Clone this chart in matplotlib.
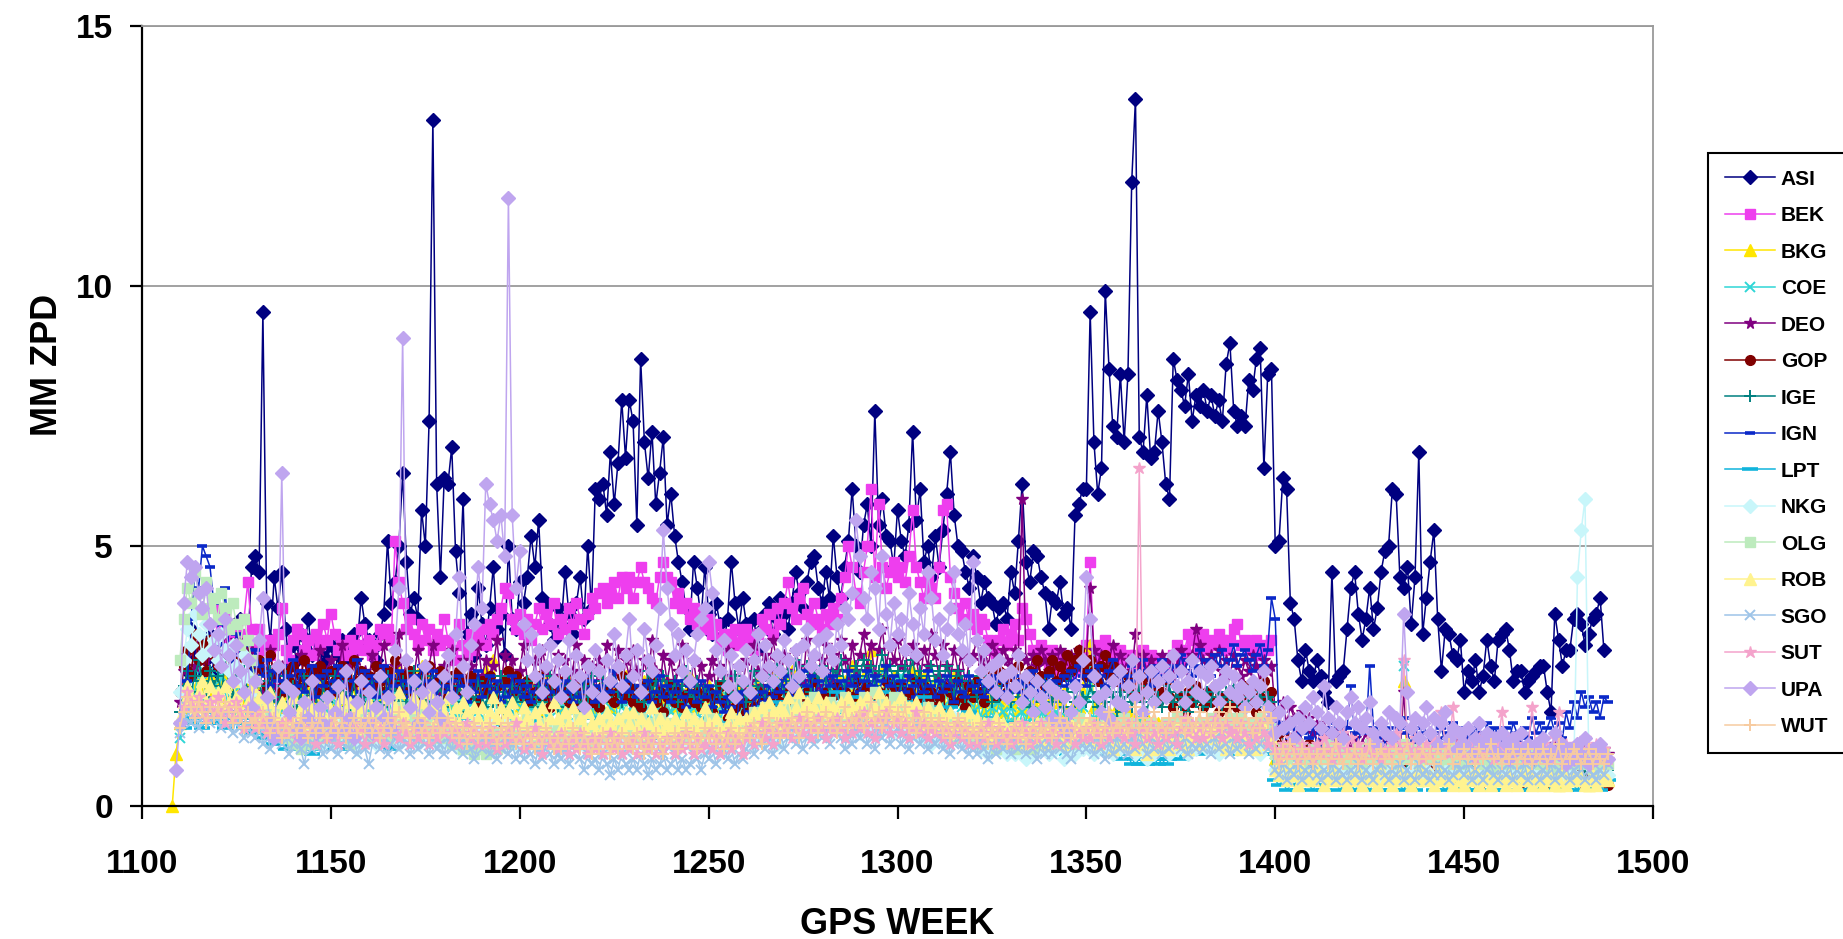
import numpy as np
import matplotlib
matplotlib.use("Agg")
from matplotlib import pyplot as plt


def tenths(text):
    # values are typed in tenths of a millimetre, one line per 10 weeks
    return np.array(text.split(), dtype=float) / 10


ASI_START = 1111
ASI = tenths("""
22 26 34 29 25 31 28 33 26 30
27 32 29 34 31 36 32 30 46 48
45 95 39 32 44 38 45 34 27 31
28 33 30 36 29 32 27 30 28 31
26 29 32 28 30 33 31 40 35 32
30 28 33 37 51 39 43 50 64 47
37 40 36 57 50 74 132 62 44 63
62 69 49 41 59 33 37 29 42 35
31 38 46 34 37 29 50 36 34 43
39 44 52 46 55 40 39 35 32 38
35 45 37 33 39 44 36 50 38 61
59 62 56 68 58 66 78 67 78 74
54 86 70 63 72 58 64 71 54 60
52 47 43 38 34 47 42 36 46 37
33 39 35 31 36 47 39 34 40 35
32 36 30 34 37 39 33 36 40 37
34 39 45 41 38 43 47 48 42 39
45 40 52 44 40 46 51 61 50 45
54 58 50 76 54 59 52 51 46 57
51 48 54 72 55 61 47 50 44 52
46 53 60 68 56 50 49 45 42 48
44 39 43 40 39 35 38 39 36 45
41 51 62 47 43 49 48 44 41 34
40 39 43 37 38 34 56 58 61 61
95 70 60 65 99 84 73 71 83 70
83 120 136 71 68 79 67 68 76 70
62 59 86 82 80 77 83 74 79 77
80 76 79 75 78 74 85 89 76 73
75 73 82 80 86 88 65 83 84 50
51 63 61 39 36 28 24 30 26 24
28 25 22 20 45 24 25 26 34 42
45 37 32 36 42 34 38 45 49 50
61 60 44 42 46 35 44 68 33 40
47 53 36 26 34 33 29 28 32 22
26 24 28 22 25 32 27 24 32 33
34 30 24 26 26 22 24 25 26 27
27 22 18 37 32 27 30 30 36 37
35 31 33 36 37 40 30
""")

BEK_START = 1120
BEK = tenths("""
38 34 36 32 35 30 33 36 43 34
31 34 30 32 29 31 33 38 30 28
32 34 33 30 32 29 33 31 35 32
37 33 30 31 29 32 30 31 34 30
32 29 31 34 33 34 32 51 43 39
34 36 33 31 35 32 34 30 33 31
36 32 30 28 35 31 29 33 30 32
34 31 35 33 36 38 42 41 36 34
37 33 36 32 35 38 34 37 35 39
33 36 34 38 35 39 36 33 37 40
38 41 42 39 41 43 40 44 42 44
40 43 46 43 42 40 39 44 47 44
43 39 41 38 39 36 38 35 37 34
36 33 35 31 33 30 32 34 31 33
34 32 30 33 36 34 37 33 38 35
39 43 38 36 40 42 37 35 39 36
34 37 35 38 36 40 44 50 46 41
39 45 50 61 44 58 46 42 45 47
44 46 43 48 57 46 43 40 44 42
40 46 57 58 44 41 38 36 39 35
37 34 36 35 32 30 29 32 34 31
33 35 32 38 36 33 30 28 31 29
27 30 28 26 29 27 25 28 26 29
31 47 29 31 28 32 30 29 27 30
28 29 27 29 28 30 27 29 26 28
27 25 27 29 31 28 30 33 32 29
31 33 30 32 31 33 32 30 32 34
35 31 32 30 31 32 29 31 30 32
""")

BKG_START = 1108
BKG = tenths("""
0 10
16 23 21 19 22 24 20 23 25 22
24 21 25 23 26 22 20 24 21 19
23 20 22 18 24 21 19 23 20 22
18 21 24 19 22 20 17 23 21 19
22 18 20 24 19 21 23 18 20 22
19 23 21 25 20 22 24 19 26 21
23 20 25 22 27 21 24 19 22 26
21 23 20 25 22 19 24 21 23 20
22 26 23 28 21 24 20 23 22 25
19 22 24 20 23 18 21 25 22 20
23 19 21 24 20 22 18 21 23 19
22 20 24 21 19 23 20 22 25 21
19 22 20 24 21 23 19 22 20 24
21 19 23 20 22 25 21 19 22 20
23 21 18 22 20 24 19 21 23 20
22 19 21 24 22 20 23 25 24 23
25 24 26 23 25 24 22 26 23 21
24 22 20 23 25 21 24 22 27 23
21 25 22 30 24 22 26 23 21 25
23 20 24 22 26 21 23 25 22 20
24 21 23 19 22 25 21 23 20 22
19 22 20 18 21 19 23 20 18 21
20 17 21 19 22 18 20 17 21 19
18 21 17 20 22 18 16 20 19 22
24 31 19 17 21 16 18 15 19 17
15 18 14 17 16 13 17 15 14 16
13 16 14 12 15 13 16 14 12 15
14 12 15 13 16 14 12 15 13 16
14 17 15 13 16 14 12 15 13 14
9 8 10 7 12 9 8 10 7 9
8 10 7 9 11 8 7 9 8 10
7 9 8 6 9 7 10 8 6 9
7 8 6 9 24 7 8 6 9 7
8 6 7 9 6 8 7 5 8 6
7 9 6 8 5 7 6 8 7 5
7 6 8 5 7 6 8 7 5 6
8 6 5 7 6 4 7 5 6 8
6 5 7 4 6 5 7 6 5
""")

COE_START = 1110
COE = tenths("""
13 17 22 25 21 27 24 20 26 23
21 25 22 19 24 20 23 21 18 22
19 22 17 20 23 18 21 16 19 22
17 20 15 18 21 17 19 16 20 18
21 17 19 15 18 20 16 19 17 21
18 16 20 17 19 22 18 16 21 19
17 20 18 22 19 16 20 18 21 17
19 22 18 20 17 21 19 16 20 18
16 19 21 17 20 18 22 19 17 20
18 21 17 19 16 20 18 21 17 19
20 17 19 22 18 16 20 18 21 19
17 20 18 16 19 21 17 20 18 22
19 17 21 18 20 16 19 22 18 20
18 21 17 19 22 18 20 17 19 21
17 20 18 16 19 21 18 20 17 19
21 18 20 23 19 22 20 24 21 19
22 20 24 21 23 19 22 25 21 23
20 23 21 24 22 19 23 21 25 22
24 21 23 26 22 25 21 23 20 24
22 25 21 23 20 24 22 19 23 21
20 23 19 22 18 21 23 19 22 20
18 21 17 20 16 19 17 20 18 16
19 17 15 18 16 20 17 15 18 16
17 15 18 16 14 17 15 18 16 19
21 28 17 15 18 14 16 13 17 15
14 16 13 15 17 14 12 16 14 13
15 13 16 14 12 15 13 16 14 12
14 16 13 15 14 12 15 13 16 14
13 15 12 14 16 13 15 12 14 13
10 8 11 9 7 10 8 9 11 8
9 7 10 8 11 9 7 10 8 9
8 10 7 9 11 8 10 7 9 8
9 7 10 8 27 11 9 7 10 8
7 9 8 10 7 9 8 6 9 7
8 10 7 9 8 6 9 7 8 10
7 9 8 6 9 7 10 8 7 9
8 6 9 7 8 10 7 9 6 8
9 7 8 6 9 7 8 6 7
""")

DEO_START = 1110
DEO = tenths("""
20 26 29 31 27 33 30 28 32 29
31 28 33 30 27 32 29 31 28 30
24 27 22 26 30 23 21 27 24 26
22 26 29 23 27 21 25 30 23 26
28 22 25 31 24 27 23 28 21 26
24 29 22 27 31 25 21 27 33 24
28 22 25 30 23 21 27 31 24 22
27 24 30 22 25 28 21 27 23 31
25 28 22 27 32 23 29 24 28 22
26 31 24 22 28 23 30 26 21 25
29 23 28 22 26 31 24 28 23 27
22 28 24 31 23 26 30 22 28 25
30 26 23 28 24 32 26 22 29 24
28 23 26 31 24 22 28 23 27 21
25 28 22 27 23 30 25 21 27 23
28 24 31 26 23 29 26 32 28 24
29 26 23 30 27 24 32 26 29 23
28 31 24 29 26 32 28 24 31 26
29 33 27 31 25 30 34 27 31 28
32 27 30 25 31 28 24 30 27 33
29 25 31 27 24 30 26 29 23 28
29 32 28 30 27 31 29 26 30 28
27 30 29 59 28 26 29 27 30 28
26 29 27 30 28 25 29 27 30 26
28 42 30 27 29 26 28 31 27 29
26 28 25 33 27 29 26 28 25 27
29 26 28 25 27 30 26 28 29 34
31 28 26 29 27 30 26 28 25 29
27 25 28 26 29 27 24 28 26 27
18 15 20 16 19 17 14 18 15 17
14 16 12 15 13 11 14 12 15 13
11 13 10 12 14 11 9 12 10 13
11 9 12 10 22 11 9 12 10 8
11 9 12 10 8 11 9 10 12 8
10 12 9 11 8 10 12 9 11 10
8 11 9 12 10 8 11 9 10 12
9 11 8 10 12 9 11 10 8 11
10 12 9 11 8 10 9 11 10
""")

GOP_START = 1110
GOP = tenths("""
22 27 30 25 33 28 31 26 32 29
27 33 30 26 31 28 25 29 32 27
24 28 26 23 29 25 27 22 26 24
27 23 25 28 24 26 22 27 25 23
26 24 22 27 25 23 28 24 26 22
25 23 27 24 22 26 24 28 23 25
22 26 24 21 25 23 27 22 24 26
23 21 25 22 26 24 21 25 23 20
24 22 25 21 23 12 24 26 22 25
23 21 24 20 22 25 21 23 19 22
24 21 23 20 22 19 23 21 24 20
22 19 23 21 24 20 22 25 21 23
20 22 19 23 21 24 20 22 18 21
23 20 22 19 21 24 20 22 19 21
22 18 21 23 20 17 22 19 21 20
18 21 19 22 20 17 21 19 22 20
19 22 20 23 21 19 22 20 24 21
20 22 19 21 23 20 22 19 21 24
22 20 23 21 19 22 20 24 21 23
21 23 20 22 19 24 21 23 20 22
19 21 23 15 22 20 24 21 19 23
21 24 22 20 25 23 21 26 24 22
25 23 27 24 22 26 24 28 25 23
26 28 24 27 25 29 26 28 30 27
25 28 26 24 27 29 25 27 24 26
23 25 22 24 21 23 25 22 24 20
22 24 21 19 23 21 18 22 20 23
21 19 22 20 23 18 21 19 22 20
19 21 23 20 22 18 21 24 20 22
12 14 11 9 13 10 8 11 9 12
8 10 7 9 6 8 10 7 9 6
8 6 9 7 5 8 10 7 9 6
7 9 6 8 7 5 8 6 9 7
6 8 5 7 9 6 8 5 7 6
8 5 7 6 4 7 5 8 6 7
5 7 6 8 5 6 4 7 5 6
7 5 6 4 7 5 6 8 5 6
5 7 4 6 5 7 5 6 4
""")

IGE_START = 1110
IGE = tenths("""
18 23 26 22 25 28 24 21 26 23
25 22 27 24 21 25 23 26 22 24
21 24 20 23 26 21 19 23 25 20
23 19 22 25 20 24 21 18 23 20
22 25 19 23 21 18 24 20 22 19
21 24 20 22 19 25 21 23 20 24
20 23 26 21 24 20 22 25 21 23
19 22 24 20 23 21 18 22 20 24
21 19 23 20 22 25 21 19 23 20
22 20 24 21 19 23 20 22 25 21
19 23 21 24 20 22 19 23 21 25
22 20 24 21 23 26 22 20 24 22
25 21 23 20 26 22 24 21 25 23
21 24 20 23 26 22 21 24 20 23
22 19 23 21 24 20 22 25 21 23
20 23 26 22 24 21 25 23 27 24
22 26 24 28 23 25 27 22 26 24
27 24 22 26 25 28 23 26 24 27
25 28 24 27 23 26 29 25 27 24
26 23 27 25 28 24 26 22 25 27
24 26 23 27 25 22 26 24 21 25
23 21 25 22 24 20 23 21 25 22
20 23 21 24 22 19 23 21 20 24
22 20 23 21 19 22 24 20 23 21
20 23 21 19 22 20 23 21 18 22
20 22 19 21 23 20 18 22 20 21
19 21 23 20 22 19 21 18 22 20
21 19 22 20 23 21 19 22 20 23
20 22 19 21 23 20 22 19 21 20
11 9 12 10 8 11 9 12 10 8
10 8 11 9 7 10 8 11 9 8
9 7 10 8 11 9 7 10 8 9
8 10 7 9 11 8 10 7 9 8
7 9 8 10 7 9 6 8 10 7
9 7 8 6 9 7 10 8 6 9
7 9 8 6 8 10 7 9 7 8
9 7 8 10 6 8 7 9 7 8
8 9 7 8 10 7 9 8 7
""")

IGN_START = 1112
IGN = tenths("""
24 36 45 42 50 48 46 39 35 31
42 30 27 33 29 31 28 26 30 27
25 28 23 26 24 27 22 25 28 23
26 22 24 27 21 25 23 26 22 24
27 23 25 21 24 28 22 26 23 25
21 24 27 22 25 23 26 21 24 22
25 23 27 22 24 26 21 25 23 22
24 21 25 23 20 24 22 26 21 23
25 22 24 20 23 21 25 22 24 21
23 20 22 25 21 24 22 19 23 21
24 22 20 23 21 25 22 24 20 23
21 24 22 26 23 20 24 22 25 21
23 21 24 20 22 25 21 23 20 22
24 21 19 23 22 20 24 21 23 19
22 20 18 21 19 12 20 22 14 18
21 19 22 20 23 21 24 22 25 23
21 24 22 26 23 25 21 24 22 26
23 25 22 24 21 26 23 25 22 24
26 23 25 22 24 27 23 25 21 24
22 25 23 21 24 22 26 23 21 24
22 25 23 20 24 22 21 25 23 22
24 21 23 22 25 21 24 22 23 25
22 24 21 23 26 22 24 21 25 23
24 22 25 23 26 24 27 25 23 26
24 27 25 23 26 28 24 26 23 25
27 24 26 28 25 23 27 25 28 26
24 27 25 29 26 28 25 27 30 26
28 25 29 27 30 26 28 31 27 29
30 28 26 29 31 27 30 40 36 16
14 16 13 15 12 14 16 13 15 12
14 13 15 12 16 14 13 15 23 14
12 16 14 27 15 13 16 12 15 14
13 15 17 14 12 15 13 16 14 12
14 13 15 12 14 16 13 15 12 14
13 15 14 12 16 13 15 14 12 15
13 16 14 12 15 13 17 14 16 13
15 17 14 16 13 18 15 20 17 22
19 21 18 20 17 21 20
""")

LPT_START = 1111
LPT = tenths("""
15 17 16 18 17 15 18 16 17 16
18 15 17 16 18 17 15 16 14 17
15 13 16 14 12 15 13 11 14 12
13 11 14 12 10 13 15 11 14 12
13 15 12 14 11 13 16 12 14 13
15 12 14 16 13 11 14 12 15 13
14 16 12 15 13 17 14 12 15 13
16 13 15 12 14 17 13 15 12 14
13 15 12 16 14 18 13 15 12 14
16 13 15 17 14 12 15 13 16 14
13 15 12 14 16 13 15 12 14 17
14 12 15 13 16 14 12 15 13 16
14 17 13 15 12 14 16 13 15 14
16 13 15 12 14 16 13 15 17 14
15 13 16 14 12 15 17 14 16 13
15 17 14 16 19 15 17 20 16 18
20 17 19 16 18 21 17 19 16 18
20 17 19 22 18 16 19 21 17 19
21 18 20 17 19 22 18 20 17 19
18 20 17 19 16 18 21 17 19 16
18 15 17 19 16 14 17 15 18 16
14 16 13 15 17 14 12 15 13 16
14 12 15 13 11 14 12 15 13 11
13 11 14 12 10 13 11 14 12 15
13 11 12 10 13 11 10 12 9 11
10 8 9 8 9 8 9 9 8 9
8 9 10 11 9 12 10 13 11 12
10 12 11 13 10 12 11 10 12 11
13 11 10 12 11 13 10 12 11 5
4 5 3 4 5 3 4 6 4 3
5 4 3 5 4 6 3 4 5 3
4 3 5 4 3 5 4 3 6 4
3 5 4 3 5 4 3 5 4 6
4 3 5 4 3 4 5 3 4 5
3 4 5 3 4 6 4 3 5 4
3 5 4 3 4 5 3 4 5 3
4 5 3 4 6 4 3 5 4 3
5 4 3 4 5 3 4 5
""")

NKG_START = 1110
NKG = tenths("""
22 28 34 31 37 33 29 35 30 32
28 33 30 26 31 27 24 29 25 22
20 17 19 15 18 14 16 13 17 15
13 16 14 12 15 17 13 15 12 16
14 12 15 17 13 16 14 11 15 13
16 14 12 15 13 17 14 16 12 15
13 16 14 12 17 15 13 16 14 12
15 13 16 14 11 15 13 12 16 14
12 15 13 17 14 12 16 13 15 12
14 16 12 15 13 11 14 12 15 13
11 14 12 15 13 16 12 14 11 13
15 12 14 11 13 16 12 14 13 11
14 12 15 13 11 14 16 12 15 13
12 14 11 13 15 12 14 16 13 11
14 12 15 13 11 14 12 15 13 16
13 15 12 14 17 13 16 14 12 15
17 14 16 13 15 18 14 16 13 17
15 17 14 16 19 15 17 14 18 16
14 17 15 19 16 14 18 15 17 14
16 19 15 17 14 16 13 17 15 12
15 13 16 12 14 17 13 15 12 14
12 14 11 13 10 12 14 11 13 10
12 10 13 11 9 12 10 13 11 12
10 13 11 12 9 11 13 10 12 11
13 11 10 12 14 11 13 10 12 11
13 11 12 10 13 11 9 12 10 13
11 12 10 13 11 14 12 10 13 11
12 14 11 13 12 10 13 11 14 12
11 13 12 14 11 13 10 12 14 13
7 6 8 5 7 6 8 5 7 6
5 7 6 8 5 6 7 5 8 6
7 5 6 8 6 5 7 6 5 7
6 8 5 7 6 5 7 8 6 5
7 6 5 8 6 7 5 6 8 7
5 7 6 5 8 6 7 5 6 7
8 6 5 7 6 8 5 7 6 5
7 6 8 5 7 6 5 7 8 6
44 53 59 9 7 6 8 7 6
""")

OLG_START = 1110
OLG = tenths("""
28 36 42 39 45 41 37 43 38 40
36 41 38 34 39 35 31 36 32 28
24 20 17 19 15 18 14 16 13 15
12 14 11 13 16 12 15 13 17 14
16 13 15 18 14 12 16 14 17 15
13 16 14 18 15 13 17 15 19 16
14 17 15 13 18 16 14 17 15 13
16 14 12 15 13 11 14 12 10 13
11 10 12 14 11 13 15 12 14 16
13 15 17 14 12 15 13 16 14 12
15 13 16 14 12 15 17 13 15 14
12 15 13 16 14 12 15 17 14 16
13 15 17 14 12 16 14 17 15 13
16 14 12 15 13 17 14 16 13 15
17 14 16 13 15 12 14 16 13 15
14 16 18 15 17 19 16 18 15 17
19 16 18 20 17 19 16 18 21 17
19 17 20 18 16 19 21 17 19 16
18 21 17 19 22 18 20 17 19 21
18 20 17 19 16 18 15 17 19 16
18 15 17 14 16 13 15 17 14 16
13 15 12 14 16 13 11 14 12 15
13 11 14 12 15 13 11 14 16 13
15 12 14 16 13 15 12 14 17 15
13 16 14 12 15 17 14 16 13 15
17 14 16 13 15 12 14 16 13 15
14 16 13 15 17 14 16 13 15 14
16 13 15 17 14 16 13 15 17 14
15 17 14 16 13 15 17 14 16 15
10 8 11 9 7 10 12 8 10 9
11 8 10 9 12 8 10 11 9 8
10 9 11 8 10 12 9 11 8 10
9 11 8 10 12 9 11 10 8 9
11 9 10 8 11 9 12 8 10 9
8 10 9 11 8 10 9 7 10 8
10 8 9 11 8 10 9 8 10 9
8 10 9 7 10 8 9 11 8 9
9 8 10 9 7 9 8 10 8
""")

ROB_START = 1110
ROB = tenths("""
17 20 23 21 19 22 24 20 23 21
22 19 23 20 24 21 18 22 20 23
19 21 17 20 22 18 16 20 17 19
21 17 19 16 20 18 15 19 17 20
18 16 19 21 17 20 18 15 19 17
20 17 19 16 18 21 17 19 22 18
16 19 21 17 20 18 22 19 17 20
18 21 17 19 16 20 18 15 19 17
19 16 18 21 17 19 15 18 20 17
16 19 17 14 18 16 19 15 17 20
17 15 18 16 19 14 17 15 18 16
14 17 15 18 16 13 17 15 18 16
18 15 17 14 16 19 15 17 14 16
15 17 14 16 18 15 17 14 16 19
16 14 17 15 13 16 18 15 17 14
17 15 18 16 19 17 20 18 16 19
18 21 17 19 22 18 20 17 19 21
18 20 17 19 16 20 18 21 19 17
20 18 21 17 19 22 18 20 17 19
18 21 17 19 16 20 18 15 19 17
16 19 17 15 18 16 14 17 15 18
15 17 14 16 13 15 17 14 16 13
15 13 16 14 12 15 13 16 14 12
14 16 13 15 12 14 16 13 15 14
16 13 15 12 14 16 13 11 14 12
14 12 13 11 14 12 10 13 11 14
12 14 11 13 15 12 14 11 13 15
12 14 16 13 15 12 14 11 13 12
14 11 13 12 14 11 13 15 12 13
7 6 8 5 7 6 4 7 5 6
5 7 6 4 6 5 7 6 5 4
6 5 7 4 6 5 6 4 7 5
6 4 5 7 5 6 4 6 5 7
5 6 4 7 5 6 5 4 6 5
4 6 5 7 4 5 6 4 5 6
5 4 6 5 4 6 5 7 4 5
6 4 5 6 4 5 7 4 5 6
5 6 4 5 6 4 5 6 5
""")

SGO_START = 1110
SGO = tenths("""
14 17 19 16 18 15 17 19 16 18
17 15 18 16 14 17 15 13 16 14
13 15 12 14 11 13 15 12 14 10
12 14 11 8 13 11 14 12 10 13
11 13 10 12 14 11 13 10 12 11
8 12 14 11 13 10 12 14 11 13
12 10 13 11 14 12 10 13 11 12
10 13 11 14 12 10 13 11 9 12
11 13 10 12 9 11 13 10 12 9
11 9 12 10 8 11 9 12 10 8
10 9 11 8 10 12 9 7 10 8
9 7 10 8 6 9 7 10 8 7
9 7 10 8 6 9 7 8 10 7
8 10 7 9 7 8 10 9 7 10
9 11 8 10 12 9 11 8 10 9
11 13 10 12 14 11 13 10 12 14
11 13 15 12 14 11 13 15 12 14
13 15 12 14 16 13 11 14 12 15
13 16 12 14 11 15 13 16 12 14
15 12 14 11 13 16 12 14 11 13
12 14 11 13 10 12 14 11 13 10
12 10 13 11 9 12 10 13 11 12
10 13 11 12 10 13 11 9 12 10
12 10 13 11 12 10 9 12 11 13
11 12 10 13 11 9 12 10 13 11
12 10 13 11 14 12 10 13 11 12
10 13 11 12 14 11 13 10 12 11
13 11 12 10 13 11 14 12 10 13
11 13 12 10 13 11 12 14 11 12
7 6 8 5 7 6 8 5 7 6
8 6 5 7 6 8 5 7 6 5
7 6 8 5 7 6 5 7 8 6
5 7 6 8 5 7 6 5 8 6
7 5 6 8 6 7 5 6 8 7
6 8 5 7 6 5 7 8 6 5
7 6 8 5 7 6 8 5 7 6
5 7 6 8 5 7 6 8 5 7
6 8 5 7 6 5 7 6 8
""")

SUT_START = 1110
SUT = tenths("""
16 19 22 20 18 21 19 17 20 18
21 18 16 19 17 20 18 15 19 17
15 18 16 14 17 15 13 16 14 17
15 13 16 14 17 15 12 16 14 13
16 14 12 15 17 14 16 13 15 12
14 16 13 15 12 14 17 15 13 16
14 12 15 13 16 14 12 15 13 16
14 16 13 15 12 14 16 13 15 12
14 12 15 13 11 14 12 15 13 16
13 11 14 12 15 13 10 14 12 13
11 14 12 10 13 11 14 12 10 13
11 13 10 12 14 11 13 10 12 11
13 10 12 14 11 13 10 12 11 13
12 10 13 11 14 12 10 13 11 12
14 11 13 10 12 14 11 13 12 10
13 15 12 14 16 13 15 12 14 16
14 16 13 15 17 14 16 13 15 17
15 13 16 14 17 15 13 16 14 17
15 18 14 16 13 17 15 18 14 16
17 14 16 13 15 18 14 16 13 15
14 16 13 15 12 14 16 13 15 12
14 12 15 13 16 14 12 15 13 14
12 15 13 16 14 12 15 13 16 14
13 15 12 14 16 13 15 12 14 13
15 13 16 14 12 15 13 16 14 15
13 16 14 12 65 15 13 16 14 12
15 13 16 14 12 15 17 14 16 13
15 13 16 14 17 15 13 16 14 15
13 16 14 12 15 13 16 14 12 14
11 9 12 10 13 11 9 12 10 11
9 12 10 13 11 9 12 10 14 11
13 10 12 9 11 14 10 12 9 11
10 12 14 11 28 12 10 13 11 9
12 10 13 11 18 12 10 19 11 13
10 12 11 9 13 10 12 11 9 12
18 11 13 10 12 11 9 12 19 11
10 12 11 9 13 18 10 12 11 9
12 10 13 11 9 12 10 11 9
""")

UPA_START = 1109
UPA = tenths("""
7 16 39 47 44 46 41 38 42 35
30 33 27 36 29 24 31 26 22 28
19 24 32 40 21 16 13 27 64 23
18 22 15 13 20 17 24 14 19 16
21 14 18 23 15 26 17 13 20 24
16 22 14 19 25 17 21 15 30 42
90 28 19 24 16 22 27 18 23 20
17 25 29 21 33 44 27 22 31 35
46 38 62 58 55 51 56 48 117 56
42 49 35 28 33 25 30 22 27 31
24 28 21 26 32 23 29 25 19 27
22 30 26 21 28 24 33 27 23 29
36 25 30 22 34 28 26 31 38 53
42 35 29 33 26 30 24 28 33 36
38 47 41 30 26 32 23 29 21 27
24 30 22 28 33 25 31 27 24 29
26 32 28 23 30 25 31 34 27 29
32 26 33 30 28 35 31 38 36 41
55 48 40 36 45 42 34 48 37 31
39 33 36 30 41 35 29 38 33 45
40 32 36 29 34 38 45 33 30 35
28 47 32 26 30 24 27 22 28 25
21 26 23 29 20 25 22 18 24 21
19 23 17 22 16 21 14 18 23 20
28 44 36 25 21 18 22 17 24 20
26 19 23 28 21 25 18 22 26 20
24 27 21 25 29 23 26 20 24 28
22 26 21 25 27 23 20 24 26 22
25 21 23 19 22 24 20 23 26 19
17 14 18 15 20 16 13 17 15 19
16 21 18 15 23 17 14 19 16 13
18 21 16 19 15 17 20 14 12 16
14 18 13 17 16 37 22 15 17 13
16 19 14 17 12 16 18 13 15 11
14 12 15 10 13 16 12 14 11 13
10 14 12 9 13 11 14 10 12 9
12 10 13 9 11 14 10 12 8 11
9 12 10 13 8 11 9 12 10 9
""")

WUT_START = 1110
WUT = tenths("""
15 18 21 19 17 20 18 16 19 17
19 17 20 18 16 19 17 15 18 16
17 15 18 16 14 17 15 13 16 14
16 14 17 15 13 16 14 17 15 13
15 17 14 16 13 15 17 14 16 15
17 14 16 13 15 17 14 16 18 15
16 13 15 17 14 16 13 15 17 14
15 17 14 16 13 15 12 14 16 13
15 13 16 14 12 15 13 16 14 12
14 12 15 13 11 14 12 15 13 11
13 11 14 12 15 13 11 14 12 10
13 11 14 12 10 13 11 14 12 13
11 14 12 10 13 11 14 12 10 13
12 14 11 13 15 12 14 11 13 15
13 15 12 14 11 13 15 12 14 13
15 13 16 14 12 15 17 14 16 13
16 14 17 15 13 16 18 15 17 14
16 18 15 17 14 16 19 15 17 16
18 15 17 20 16 18 15 17 19 16
18 16 19 15 17 14 16 18 15 17
15 17 14 16 13 15 17 14 16 13
15 13 16 14 12 15 13 16 14 12
14 16 13 15 12 14 16 13 15 14
16 13 15 17 14 16 13 15 17 14
15 17 14 16 13 15 18 14 16 15
17 14 16 19 15 17 14 16 18 15
16 14 17 15 18 16 14 17 15 16
18 15 17 14 16 18 15 17 19 16
17 15 18 16 14 17 15 18 16 17
10 8 11 9 12 10 8 11 9 10
8 10 9 11 8 10 12 9 8 10
9 11 8 10 9 12 8 10 11 9
10 8 11 9 10 12 8 10 9 11
9 10 8 11 9 10 12 8 10 9
11 9 10 8 11 9 10 12 9 10
8 10 9 11 8 10 9 11 8 10
9 11 8 10 9 12 8 10 9 11
10 8 9 11 8 10 9 8 10
""")

STATIONS = ["ASI", "BEK", "BKG", "COE", "DEO", "GOP", "IGE", "IGN",
            "LPT", "NKG", "OLG", "ROB", "SGO", "SUT", "UPA", "WUT"]
STARTS = [ASI_START, BEK_START, BKG_START, COE_START, DEO_START, GOP_START,
          IGE_START, IGN_START, LPT_START, NKG_START, OLG_START, ROB_START,
          SGO_START, SUT_START, UPA_START, WUT_START]
SERIES = [ASI, BEK, BKG, COE, DEO, GOP, IGE, IGN,
          LPT, NKG, OLG, ROB, SGO, SUT, UPA, WUT]

# excel-like series styles: colour, marker, marker size, marker edge width
STYLES = [
    ("#000080", "D", 7.0, 1.0),
    ("#EE3EEE", "s", 7.0, 1.0),
    ("#FFE600", "^", 8.0, 1.0),
    ("#2FD6D6", "x", 7.0, 1.4),
    ("#800080", "*", 8.5, 1.0),
    ("#800000", "o", 7.0, 1.0),
    ("#008080", "+", 8.0, 1.4),
    ("#0A28C8", "_", 7.0, 2.6),
    ("#10B4DC", "_", 11.0, 2.6),
    ("#C8F6FA", "D", 7.5, 1.0),
    ("#BDEBBD", "s", 7.5, 1.0),
    ("#FFF38F", "^", 8.5, 1.0),
    ("#9EC4E8", "x", 7.5, 1.4),
    ("#F4A3CB", "*", 9.0, 1.0),
    ("#BFA5EF", "D", 7.5, 1.0),
    ("#F7CBA0", "+", 8.5, 1.4),
]

W, H = 1843, 939
plt.rcParams["font.family"] = ["Liberation Sans", "DejaVu Sans"]

fig = plt.figure(figsize=(W / 100, H / 100), dpi=100)
ax = fig.add_axes([142 / W, 1 - 806 / H, (1653 - 142) / W, (806 - 26) / H])

for name, start, values, (color, marker, ms, mew) in zip(STATIONS, STARTS, SERIES, STYLES):
    weeks = start + np.arange(len(values))
    ax.plot(weeks, values, color=color, lw=1.1, marker=marker, ms=ms,
            mfc=color, mec=color, mew=mew, label=name, clip_on=False)

ax.set_xlim(1100, 1500)
ax.set_ylim(0, 15)
ax.set_xticks(range(1100, 1501, 50))
ax.set_yticks([0, 5, 10, 15])
ax.grid(axis="y", color="#9a9a9a", lw=1.3)
ax.set_axisbelow(True)

for side in ("left", "bottom"):
    ax.spines[side].set_color("black")
    ax.spines[side].set_linewidth(1.6)
for side in ("top", "right"):
    ax.spines[side].set_color("#9a9a9a")
    ax.spines[side].set_linewidth(1.3)

ax.tick_params(axis="both", direction="out", length=9, width=1.6, labelsize=24)
ax.tick_params(axis="x", pad=22)
ax.tick_params(axis="y", pad=12)
for lbl in ax.get_xticklabels() + ax.get_yticklabels():
    lbl.set_fontweight("bold")

ax.set_xlabel("GPS WEEK", fontsize=26, fontweight="bold")
ax.xaxis.set_label_coords(0.5, (806 - 924) / 780)
ax.xaxis.label.set_va("center")
ax.set_ylabel("MM ZPD", fontsize=26, fontweight="bold")
ax.yaxis.set_label_coords((47 - 142) / 1511, 0.565)
ax.yaxis.label.set_va("center")

leg = ax.legend(loc="upper left", bbox_to_anchor=(1708 / W, 1 - 153 / H),
                bbox_transform=fig.transFigure, frameon=True, fancybox=False,
                edgecolor="black", framealpha=1, borderaxespad=0,
                prop={"weight": "bold", "size": 15}, handlelength=2.4,
                handletextpad=0.3, labelspacing=0.84, borderpad=0.8)
leg.get_frame().set_linewidth(1.5)

fig.savefig("out.png", dpi=100)
plt.close(fig)
